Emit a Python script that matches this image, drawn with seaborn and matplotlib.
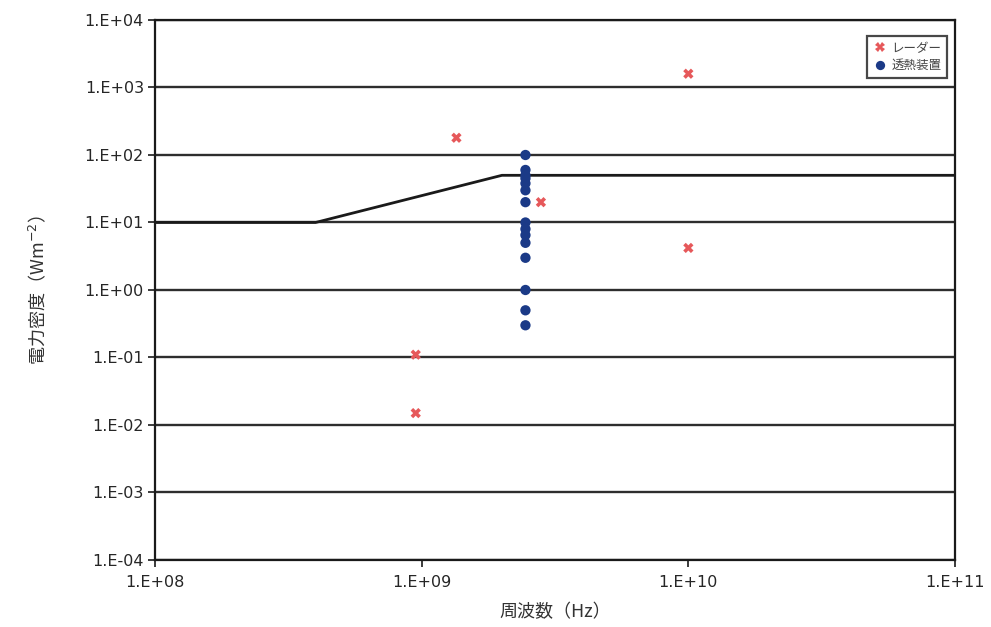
import numpy as np
import pandas as pd
import matplotlib
matplotlib.use("Agg")
import matplotlib.pyplot as plt
from matplotlib.ticker import FuncFormatter, LogLocator, NullLocator
import seaborn as sns

# Radar sources: frequency (Hz) and power density (W/m^2)
radar_freq = [1.35e9, 2.8e9, 1.0e10, 1.0e10, 9.5e8, 9.5e8]
radar_power = [180, 20, 1600, 4.2, 0.11, 0.015]

# Diathermy devices at 2.45 GHz
diathermy_freq = [2.45e9] * 15
diathermy_power = [100, 60, 50, 45, 38, 30, 20, 10, 8, 6.5, 5, 3, 1, 0.5, 0.3]

# Reference level curve (breakpoints)
limit_freq = [1e8, 4e8, 2e9, 1e11]
limit_power = [10, 10, 50, 50]

series_labels = ["レーダー", "透熱装置"]
x_label = "周波数（Hz）"
y_label = "電力密度（Wm$^{-2}$）"

sns.set_theme(style="white")
plt.rcParams["font.family"] = ["DejaVu Sans", "Noto Sans CJK JP"]
plt.rcParams["mathtext.fontset"] = "dejavusans"

pts = pd.DataFrame({
    "freq": radar_freq + diathermy_freq,
    "power": radar_power + diathermy_power,
    "kind": [series_labels[0]] * len(radar_freq) + [series_labels[1]] * len(diathermy_freq),
})
lim = pd.DataFrame({"freq": limit_freq, "power": limit_power})

fig = plt.figure(figsize=(9.91, 6.27), dpi=100)
ax = fig.add_axes([0.1564, 0.1069, 0.8073, 0.8612])
ax.set_xscale("log")
ax.set_yscale("log")

# horizontal grid at each decade
for e in range(-4, 5):
    ax.axhline(10.0 ** e, color="#2e2e2e", lw=1.7, zorder=1)

sns.lineplot(data=lim, x="freq", y="power", color="#1a1a1a", lw=2.0,
             ax=ax, zorder=2, legend=False)

sns.scatterplot(data=pts, x="freq", y="power", hue="kind", style="kind",
                hue_order=series_labels, style_order=series_labels,
                palette={series_labels[0]: "#e6585a", series_labels[1]: "#1b3a87"},
                markers={series_labels[0]: "X", series_labels[1]: "o"},
                s=55, linewidth=0, ax=ax, zorder=3)

ax.set_xlim(1e8, 1e11)
ax.set_ylim(1e-4, 1e4)

fmt = FuncFormatter(lambda v, p: "1.E{:+03d}".format(int(round(np.log10(v)))))
ax.xaxis.set_major_locator(LogLocator(base=10, numticks=10))
ax.yaxis.set_major_locator(LogLocator(base=10, numticks=12))
ax.xaxis.set_minor_locator(NullLocator())
ax.yaxis.set_minor_locator(NullLocator())
ax.xaxis.set_major_formatter(fmt)
ax.yaxis.set_major_formatter(fmt)
ax.xaxis.get_offset_text().set_visible(False)
ax.yaxis.get_offset_text().set_visible(False)
ax.tick_params(axis="both", which="major", direction="out", length=5, width=1.2,
               color="#1a1a1a", labelsize=11.5, labelcolor="#262626",
               bottom=True, left=True, pad=3)
ax.tick_params(axis="x", pad=6)

for sp in ax.spines.values():
    sp.set_color("#1a1a1a")
    sp.set_linewidth(1.6)

ax.set_xlabel(x_label, fontsize=13, color="#333333",
              family=["Noto Sans CJK JP", "DejaVu Sans"], labelpad=9)
ax.set_ylabel(y_label, fontsize=13, color="#333333",
              family=["Noto Sans CJK JP", "DejaVu Sans"], labelpad=26)

leg = ax.legend(loc="upper right", bbox_to_anchor=(0.995, 0.977), frameon=True,
                fancybox=False, prop={"family": ["Noto Sans CJK JP"], "size": 9},
                handletextpad=0.3, borderpad=0.45, labelspacing=0.35,
                markerscale=0.9, handlelength=1.2, borderaxespad=0.3, title=None)
leg.get_frame().set_edgecolor("#1a1a1a")
leg.get_frame().set_linewidth(1.6)
for t in leg.get_texts():
    t.set_color("#444444")

fig.savefig("out.png", dpi=100, facecolor="white")
